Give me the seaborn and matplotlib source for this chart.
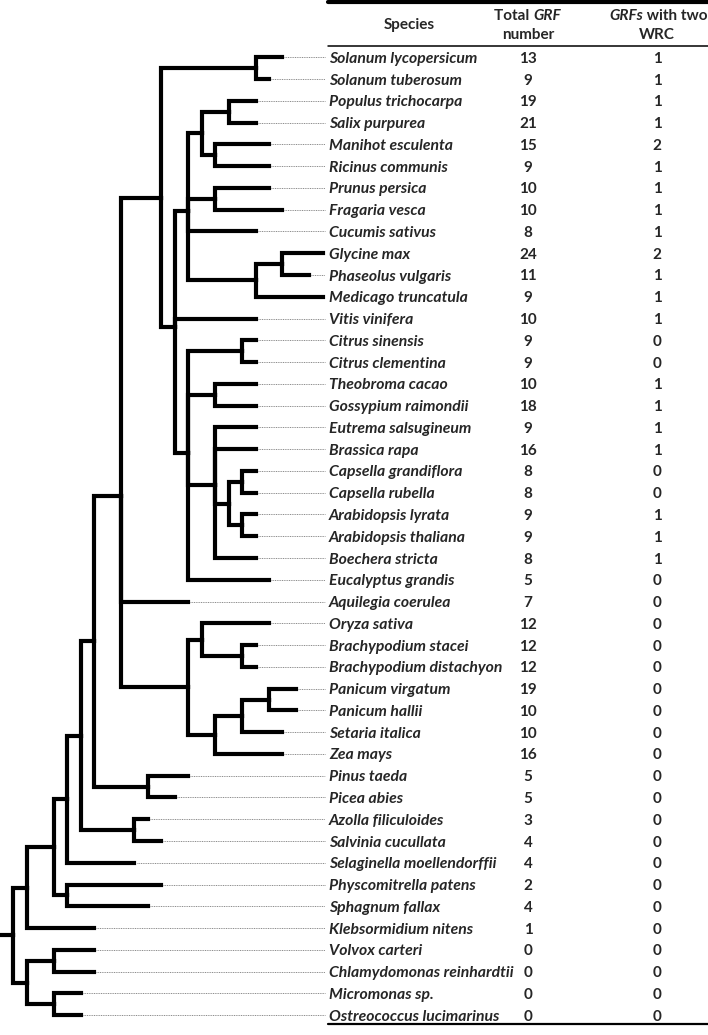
import numpy as np
import pandas as pd
import matplotlib
matplotlib.use('Agg')
import matplotlib.pyplot as plt
import seaborn as sns

# ------------------------------------------------------------
# data
# ------------------------------------------------------------
species = [
    "Solanum lycopersicum", "Solanum tuberosum", "Populus trichocarpa", "Salix purpurea",
    "Manihot esculenta", "Ricinus communis", "Prunus persica", "Fragaria vesca",
    "Cucumis sativus", "Glycine max", "Phaseolus vulgaris", "Medicago truncatula",
    "Vitis vinifera", "Citrus sinensis", "Citrus clementina", "Theobroma cacao",
    "Gossypium raimondii", "Eutrema salsugineum", "Brassica rapa", "Capsella grandiflora",
    "Capsella rubella", "Arabidopsis lyrata", "Arabidopsis thaliana", "Boechera stricta",
    "Eucalyptus grandis", "Aquilegia coerulea", "Oryza sativa", "Brachypodium stacei",
    "Brachypodium distachyon", "Panicum virgatum", "Panicum hallii", "Setaria italica",
    "Zea mays", "Pinus taeda", "Picea abies", "Azolla filiculoides", "Salvinia cucullata",
    "Selaginella moellendorffii", "Physcomitrella patens", "Sphagnum fallax",
    "Klebsormidium nitens", "Volvox carteri", "Chlamydomonas reinhardtii",
    "Micromonas sp.", "Ostreococcus lucimarinus",
]
total_grf = [13, 9, 19, 21, 15, 9, 10, 10, 8, 24, 11, 9, 10, 9, 9, 10, 18, 9, 16, 8, 8, 9, 9,
             8, 5, 7, 12, 12, 12, 19, 10, 10, 16, 5, 5, 3, 4, 4, 2, 4, 1, 0, 0, 0, 0]
two_wrc = [1, 1, 1, 1, 2, 1, 1, 1, 1, 2, 1, 1, 1, 0, 0, 1, 1, 1, 1, 0, 0, 1, 1,
           1, 0, 0, 0, 0, 0, 0, 0, 0, 0, 0, 0, 0, 0, 0, 0, 0, 0, 0, 0, 0, 0]

# cladogram depth (level) of each tip, same order as species
tip_depth = [21, 20, 19, 19, 20, 20, 20, 21, 19, 24, 23, 24, 19, 19, 19, 19, 19, 19, 19, 19,
             19, 19, 19, 19, 20, 14, 20, 19, 19, 22, 22, 21, 21, 14, 13, 11, 12, 10, 12, 11,
             7, 7, 7, 6, 6]

# topology: tips are species indices, number after ")" is the node depth
tree_newick = (
    "(((((((((0,1)19,"
    "((((2,3)17,(4,5)16)15,(6,7)16,8,((9,10)21,11)19)14,12,"
    "((13,14)18,(15,16)16,(17,18,((19,20)18,(21,22)18)17,23)16,24)14)13)12,"
    "25,((26,(27,28)18)15,(((29,30)20,31)18,32)16)14)9,"
    "(33,34)11)7,(35,36)10)6,37)5,(38,39)5)4,40)2,"
    "((41,42)4,(43,44)4)2)1"
)


def parse_newick(s):
    pos = 0

    def node():
        nonlocal pos
        if s[pos] == '(':
            pos += 1
            kids = [node()]
            while s[pos] == ',':
                pos += 1
                kids.append(node())
            pos += 1
            start = pos
            while pos < len(s) and s[pos] not in ',)':
                pos += 1
            return (float(s[start:pos]), kids)
        start = pos
        while s[pos] not in ',)':
            pos += 1
        return int(s[start:pos])

    return node()


segments = []


def layout(n):
    if isinstance(n, int):
        return tip_depth[n], float(n)
    depth, kids = n
    pts = [layout(k) for k in kids]
    y = np.mean([p[1] for p in pts])
    for cd, cy in pts:
        seg = len(segments)
        segments.append([(seg, depth, y), (seg, depth, cy), (seg, cd, cy)])
    return depth, y


root = parse_newick(tree_newick)
root_depth, root_y = layout(root)
segments.append([(len(segments), 0, root_y), (len(segments), root_depth, root_y)])
edges = pd.DataFrame([p for s in segments for p in s], columns=['seg', 'x', 'y'])

# ------------------------------------------------------------
# figure
# ------------------------------------------------------------
sns.set_theme(style="white")
plt.rcParams['font.family'] = ['Lato', 'DejaVu Sans']

W, H = 708, 1035
fig = plt.figure(figsize=(W / 100, H / 100), dpi=100)
ax = fig.add_axes([0, 0, 1, 1])

row0, row_h = 57.3, 21.77          # pixel y of first row, row spacing
unit = 13.45                       # pixels per depth level
ax.set_xlim(0, W / unit)
ax.set_ylim((H - row0) / row_h, -row0 / row_h)
ax.axis('off')

sns.lineplot(data=edges, x='x', y='y', units='seg', estimator=None, sort=False,
             color='black', lw=3.0, solid_capstyle='projecting',
             solid_joinstyle='miter', ax=ax, legend=False)

# dotted leaders to the table
leader_end = 325 / unit
ax.hlines(range(len(species)), [d + 0.15 for d in tip_depth], leader_end,
          colors='#8a8a8a', linestyles=(0, (1, 0.8)), lw=0.7)

# ------------------------------------------------------------
# table
# ------------------------------------------------------------
tr = ax.get_yaxis_transform()
x_sp, x_tot, x_wrc = 329 / W, 528 / W, 657 / W
fs_name, fs_num, fs_head = 11.3, 11, 11

def py(p):
    return (p - row0) / row_h

ax.axhline(py(1.5), 328 / W, 1, color='black', lw=3.0)
ax.axhline(py(45.5), 328 / W, 1, color='black', lw=1.1)
ax.axhline(py(1024), 328 / W, 1, color='black', lw=1.6)

ax.text(409 / W, py(25), "Species", transform=tr, ha='center', va='center',
        fontsize=fs_head, fontweight='bold')

t1 = ax.text(494 / W, py(16), "Total ", transform=tr, ha='left', va='center',
             fontsize=fs_head, fontweight='bold')
ax.annotate("GRF", xy=(1, 0), xycoords=t1, va='bottom', ha='left',
            fontsize=fs_head, fontweight='bold', fontstyle='italic')
ax.text(x_tot, py(35), "number", transform=tr, ha='center', va='center',
        fontsize=fs_head, fontweight='bold')

t2 = ax.text(609 / W, py(16), "GRFs", transform=tr, ha='left', va='center',
             fontsize=fs_head, fontweight='bold', fontstyle='italic')
ax.annotate(" with two", xy=(1, 0), xycoords=t2, va='bottom', ha='left',
            fontsize=fs_head, fontweight='bold')
ax.text(x_wrc, py(35), "WRC", transform=tr, ha='center', va='center',
        fontsize=fs_head, fontweight='bold')

for i, name in enumerate(species):
    ax.text(x_sp, i, name, transform=tr, ha='left', va='center_baseline',
            fontsize=fs_name, fontweight='bold', fontstyle='italic')
    ax.text(x_tot, i, str(total_grf[i]), transform=tr, ha='center', va='center_baseline',
            fontsize=fs_num, fontweight='bold')
    ax.text(x_wrc, i, str(two_wrc[i]), transform=tr, ha='center', va='center_baseline',
            fontsize=fs_num, fontweight='bold')

fig.savefig("out.png", dpi=100)
